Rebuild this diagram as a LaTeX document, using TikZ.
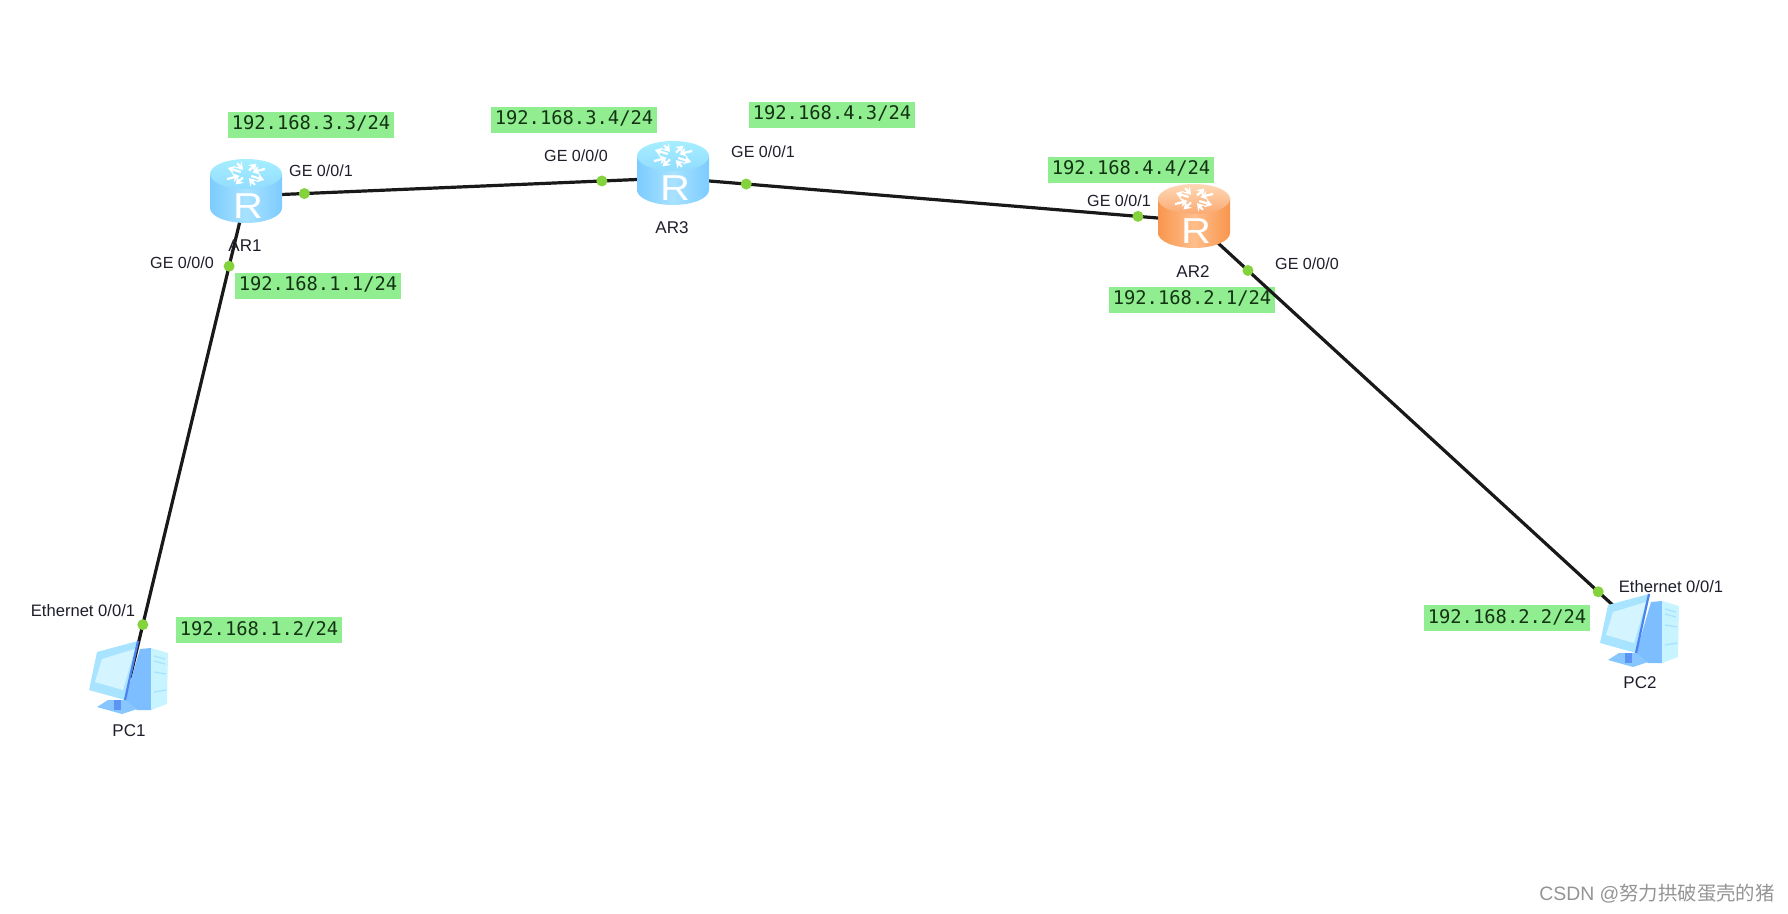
\documentclass[tikz,border=0pt]{standalone}
\usepackage{fontspec}
\setmainfont{Liberation Sans}
\setmonofont{DejaVu Sans Mono}
\newfontfamily\cjk{Noto Sans CJK SC}
\usetikzlibrary{arrows.meta,positioning}
\tikzset{>=Stealth}
\definecolor{iplabelfill}{HTML}{90EE90}
\definecolor{iptext}{HTML}{143214}
\definecolor{portdot}{HTML}{84D23C}
\definecolor{devtext}{HTML}{1E1E2A}
\definecolor{blueside}{HTML}{7CCCFF}
\definecolor{bluemid}{HTML}{A8E2FF}
\definecolor{bluetop}{HTML}{A6EEFF}
\definecolor{bluetopb}{HTML}{92DCFF}
\definecolor{orangeside}{HTML}{F8964E}
\definecolor{orangemid}{HTML}{FFBE8C}
\definecolor{orangetop}{HTML}{FFD8B6}
\definecolor{orangetopb}{HTML}{FAAA72}
\definecolor{pclight}{HTML}{C8F4FF}
\definecolor{pcframe}{HTML}{A8E4FF}
\definecolor{pcscreen}{HTML}{D4F4FF}
\definecolor{pcdark}{HTML}{7CBEFF}
\definecolor{pcedge}{HTML}{4C82F0}

\begin{document}
\begin{tikzpicture}[
    x=0.5pt, y=-0.5pt, on grid,
    device/.style={inner sep=0pt, minimum size=0pt},
    iplabel/.style={fill=iplabelfill, text=iptext, inner sep=0pt, minimum width=83pt, minimum height=13pt, text height=6.9pt, text depth=1.9pt, font=\ttfamily\fontsize{9.4}{11}\selectfont},
    portname/.style={inner sep=0pt, text=devtext, font=\fontsize{8.05}{10}\selectfont},
    ethname/.style={inner sep=0pt, text=devtext, font=\fontsize{8.3}{10}\selectfont},
    devname/.style={inner sep=0pt, text=devtext, xshift=-0.5pt, font=\fontsize{8.5}{10}\selectfont},
    port/.style={circle, fill=portdot, inner sep=0pt, minimum size=5.5pt},
    link/.style={line width=1.6pt, black!90},
    router/.pic={
      \path[left color=#1side, right color=#1side, middle color=#1mid] (-36,-22) -- (-36,12) arc[start angle=180, end angle=0, x radius=36, y radius=15] -- (36,-22) -- cycle;
      \path[top color=#1top, bottom color=#1topb] (0,-22) ellipse[x radius=36, y radius=15];
      \foreach \a in {30,120,210,300} {
        \draw[white, line width=1.1pt, -{Stealth[length=3.6pt,width=4.6pt]}] ({6*cos(\a)},{-22+4*sin(\a)}) -- ({21*cos(\a)},{-22+12*sin(\a)});
      }
      \foreach \a in {65,155,245,335} {
        \draw[white, line width=1.1pt, -{Stealth[length=3.6pt,width=4.6pt]}] ({21*cos(\a)},{-22+12*sin(\a)}) -- ({7*cos(\a)},{-22+4.5*sin(\a)});
      }
      \node[inner sep=0pt, text=white, xscale=1.15, transform shape, font=\fontsize{18}{18}\selectfont] (-r) at (2,10) {R};
    },
    pcicon/.pic={
      \fill[pcdark] (10,-29) -- (21,-30) -- (22,32) -- (7,32) -- (-5,22) -- cycle;
      \fill[pclight] (21,-30) -- (38,-25) -- (37,26) -- (21,32) -- cycle;
      \draw[pcframe, line width=0.7pt] (24,-22) -- (35,-19) (24,-17) -- (35,-14) (24,-6) -- (36,-4) (24,14) -- (36,12);
      \fill[pcdark!85!pclight] (-33,29) -- (-22,22) -- (-5,22) -- (7,31) -- (-8,36) -- cycle;
      \fill[pcedge!70!pcdark] (-16,22) rectangle (-9,32);
      \fill[pcframe] (-33,-26) -- (8,-37) -- (-5,22) -- (-41,12) -- cycle;
      \fill[pcscreen] (-28,-19) -- (5,-29) -- (-7,12) -- (-35,4) -- cycle;
      \draw[pcedge, line width=1.1pt] (8,-37) -- (-5,22);
    }
  ]
    \useasboundingbox (0,0) rectangle (1788,914);

    \node[iplabel] (ipar1up)  at (311,125)  {192.168.3.3/24};
    \node[iplabel] (ipar1low) at (318,286)  {192.168.1.1/24};
    \node[iplabel] (ippc1)    at (259,630)  {192.168.1.2/24};
    \node[iplabel] (ipar3l)   at (574,120)  {192.168.3.4/24};
    \node[iplabel] (ipar3r)   at (832,115)  {192.168.4.3/24};
    \node[iplabel] (ipar2up)  at (1131,170) {192.168.4.4/24};
    \node[iplabel] (ipar2low) at (1192,300) {192.168.2.1/24};
    \node[iplabel] (ippc2)    at (1507,618) {192.168.2.2/24};

    \node[device] (ar1) at (246,196) {};
    \node[device, right=213.5pt of ar1, yshift=9pt]      (ar3) {};
    \node[device, right=260.5pt of ar3, yshift=-21.5pt]  (ar2) {};
    \node[device, below=241pt of ar1, xshift=-58pt]      (pc1) {};
    \node[device, below=205pt of ar2, xshift=223.5pt]    (pc2) {};

    \draw[link] (ar1) -- node[port, pos=.136] (pa1) {} node[port, pos=.834] (pa3) {} (ar3);
    \draw[link] (ar3) -- node[port, pos=.14]  (pb3) {} node[port, pos=.893] (pb2) {} (ar2);
    \draw[link] (ar1) -- node[port, pos=.145] (pc1a) {} node[port, pos=.89] (pc1b) {} (pc1);
    \draw[link] (ar2) -- node[port, pos=.12]  (pd2) {} node[port, pos=.905] (pd3) {} (pc2);

    \pic (ar1icon) at (ar1) {router=blue};
    \pic (ar3icon) at (ar3) {router=blue};
    \pic (ar2icon) at (ar2) {router=orange};
    \pic (pc1icon) at (pc1) {pcicon};
    \pic (pc2icon) at (pc2) {pcicon};

    \node[devname, below=25pt of ar1]   (ar1name) {AR1};
    \node[devname, below=25pt of ar3]   (ar3name) {AR3};
    \node[devname, below=25.5pt of ar2] (ar2name) {AR2};
    \node[devname, below=26.5pt of pc1] (pc1name) {PC1};
    \node[devname, below=26pt of pc2]   (pc2name) {PC2};

    \node[portname] (ge1a) at (321,171)  {GE 0/0/1};
    \node[portname] (ge1b) at (182,263)  {GE 0/0/0};
    \node[ethname]  (eth1) at (83,611)   {Ethernet 0/0/1};
    \node[portname] (ge3a) at (576,156)  {GE 0/0/0};
    \node[portname] (ge3b) at (763,152)  {GE 0/0/1};
    \node[portname] (ge2a) at (1119,201) {GE 0/0/1};
    \node[portname] (ge2b) at (1307,264) {GE 0/0/0};
    \node[ethname]  (eth2) at (1671,587) {Ethernet 0/0/1};

    \node[inner sep=0pt, text=black!42, font=\fontsize{9.7}{12}\selectfont] (mark) at (1657,894) {CSDN @{\cjk 努力拱破蛋壳的猪}};
  \end{tikzpicture}
\end{document}
